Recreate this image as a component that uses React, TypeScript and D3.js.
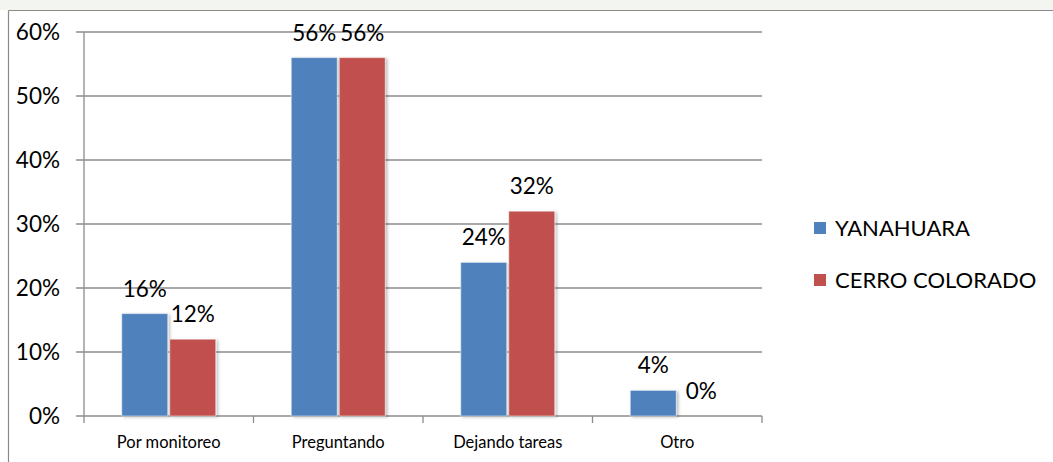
import React from "react";
import * as d3 from "d3";

const categories = ["Por monitoreo", "Preguntando", "Dejando tareas", "Otro"];
const seriesNames = ["YANAHUARA", "CERRO COLORADO"];
const yanahuara = [16, 56, 24, 4];
const cerroColorado = [12, 56, 32, 0];
const yTicks = [0, 10, 20, 30, 40, 50, 60];
const colors = ["#4F81BD", "#C0504D"];

export default function App() {
  const W = 1053, H = 462;
  const left = 84, right = 762, top = 32, bottom = 416;
  const x = d3.scaleBand<string>().domain(categories).range([left, right]).paddingInner(0).paddingOuter(0);
  const y = d3.scaleLinear().domain([0, 60]).range([bottom, top]);
  const series = [yanahuara, cerroColorado];
  const bw = x.bandwidth();
  const barW = 46;
  const gap = 2;
  const offset = (bw - 2 * barW - gap) / 2;
  const font = "Lato, 'Open Sans', sans-serif";
  const gridColor = "#8c8c8c";

  return (
    <svg width={W} height={H} style={{ position: "absolute", left: 0, top: 0, background: "#fff" }}>
      <defs>
        <filter id="sh" x="-20%" y="-20%" width="150%" height="150%">
          <feDropShadow dx="2" dy="1" stdDeviation="1.5" floodColor="#000" floodOpacity="0.25" />
        </filter>
      </defs>
      <rect x={0} y={0} width={W} height={10} fill="#f3f5f1" />
      <line x1={8.5} y1={10.5} x2={W} y2={10.5} stroke="#8a8a8a" strokeWidth={1.2} />
      <line x1={8.5} y1={10.5} x2={8.5} y2={H} stroke="#8a8a8a" strokeWidth={1.2} />
      {yTicks.map((t) => (
        <g key={t}>
          <line x1={76} x2={right} y1={y(t)} y2={y(t)} stroke={gridColor} strokeWidth={1.3} />
          <text x={60} y={y(t)} dy="0.36em" textAnchor="end" fontFamily={font} fontSize={22.5} fill="#000">
            {t}%
          </text>
        </g>
      ))}
      <line x1={left} x2={left} y1={top} y2={bottom} stroke={gridColor} strokeWidth={1.3} />
      {categories.map((c, i) => (
        <line key={"t" + i} x1={x(c)!} x2={x(c)!} y1={bottom} y2={bottom + 7} stroke={gridColor} strokeWidth={1.3} />
      ))}
      <line x1={right} x2={right} y1={bottom} y2={bottom + 7} stroke={gridColor} strokeWidth={1.3} />
      {series.map((vals, si) =>
        vals.map((v, i) => {
          const bx = x(categories[i])! + offset + si * (barW + gap);
          return (
            <g key={si + "-" + i}>
              {v > 0 && (
                <rect x={bx} y={y(v)} width={barW} height={bottom - y(v)} fill={colors[si]} stroke="#ffffff" strokeOpacity={0.5} strokeWidth={1} filter="url(#sh)" />
              )}
              <text x={bx + barW / 2} y={y(v) - 17} textAnchor="middle" fontFamily={font} fontSize={22.5} fill="#000">
                {v}%
              </text>
            </g>
          );
        })
      )}
      {categories.map((c) => (
        <text key={c} x={x(c)! + bw / 2} y={442} dy="0.35em" textAnchor="middle" fontFamily={font} fontSize={16.5} fill="#000">
          {c}
        </text>
      ))}
      {seriesNames.map((n, i) => (
        <g key={n}>
          <rect x={814} y={(i === 0 ? 228 : 280) - 6} width={12} height={12} fill={colors[i]} />
          <text x={835} y={i === 0 ? 228 : 280} dy="0.36em" fontFamily={font} fontSize={22} fill="#000">
            {n}
          </text>
        </g>
      ))}
    </svg>
  );
}
